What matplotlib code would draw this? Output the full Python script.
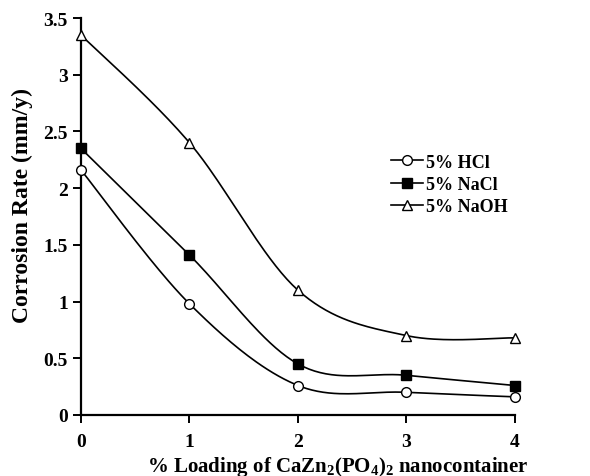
import numpy as np
import matplotlib.pyplot as plt

plt.rcParams['font.family'] = 'Liberation Serif'
plt.rcParams['font.weight'] = 'bold'
plt.rcParams['mathtext.fontset'] = 'custom'
plt.rcParams['mathtext.rm'] = 'Liberation Serif:bold'
plt.rcParams['mathtext.bf'] = 'Liberation Serif:bold'
plt.rcParams['mathtext.default'] = 'bf'

loading = [0, 1, 2, 3, 4]
hcl = [2.16, 0.98, 0.26, 0.20, 0.16]
nacl = [2.35, 1.41, 0.45, 0.35, 0.26]
naoh = [3.35, 2.40, 1.10, 0.70, 0.68]


def smooth(x, y, n=40):
    # excel-like bezier smoothing through the points
    x = np.asarray(x, float)
    y = np.asarray(y, float)
    pts = np.column_stack([x, y])
    out = []
    for i in range(len(pts) - 1):
        p0 = pts[i - 1] if i > 0 else pts[i]
        p1 = pts[i]
        p2 = pts[i + 1]
        p3 = pts[i + 2] if i + 2 < len(pts) else pts[i + 1]
        c1 = p1 + (p2 - p0) / 6
        c2 = p2 - (p3 - p1) / 6
        t = np.linspace(0, 1, n)[:, None]
        seg = ((1 - t) ** 3 * p1 + 3 * (1 - t) ** 2 * t * c1
               + 3 * (1 - t) * t ** 2 * c2 + t ** 3 * p2)
        out.append(seg if i == 0 else seg[1:])
    seg = np.vstack(out)
    return seg[:, 0], seg[:, 1]


fig = plt.figure(figsize=(5.9, 4.77), dpi=100)
ax = fig.add_axes([81 / 590, 1 - 416 / 477, (515 - 81) / 590, (416 - 19) / 477])

series = [(hcl, 'o', 'white', '5% HCl'),
          (nacl, 's', 'black', '5% NaCl'),
          (naoh, '^', 'white', '5% NaOH')]
for vals, m, fc, lab in series:
    sx, sy = smooth(loading, vals)
    ax.plot(sx, sy, color='black', lw=1.2, zorder=2)
    ax.plot(loading, vals, ls='none', marker=m, ms=7, mfc=fc, mec='black',
            mew=1.0, zorder=3, clip_on=False)
    ax.plot([], [], color='black', lw=1.2, marker=m, ms=7, mfc=fc,
            mec='black', mew=1.0, label=lab)

ax.set_xlim(0, 4)
ax.set_ylim(0, 3.5)
ax.set_xticks(loading)
ax.set_yticks(np.arange(0, 3.51, 0.5))
ax.set_yticklabels(['0', '0.5', '1', '1.5', '2', '2.5', '3', '3.5'])
ax.spines['top'].set_visible(False)
ax.spines['right'].set_visible(False)
ax.spines['left'].set_linewidth(1.6)
ax.spines['bottom'].set_linewidth(1.6)
ax.tick_params(direction='out', length=6, width=1.4, labelsize=14)
ax.tick_params(axis='x', pad=7)

ax.set_ylabel('Corrosion Rate (mm/y)', fontsize=17, fontweight='bold')
ax.yaxis.set_label_coords(-0.11, 0.53)
ax.set_xlabel('% Loading of CaZn$_2$(PO$_4$)$_2$ nanocontainer',
              fontsize=15, fontweight='bold')
ax.xaxis.set_label_coords(0.592, -0.097)

ax.legend(loc='upper left', bbox_to_anchor=(378 / 590, 1 - 142 / 477),
          bbox_transform=fig.transFigure, frameon=False, fontsize=13,
          handlelength=1.8, handletextpad=0.15, labelspacing=0.3,
          borderpad=0.2)

fig.savefig('out.png', dpi=100)
